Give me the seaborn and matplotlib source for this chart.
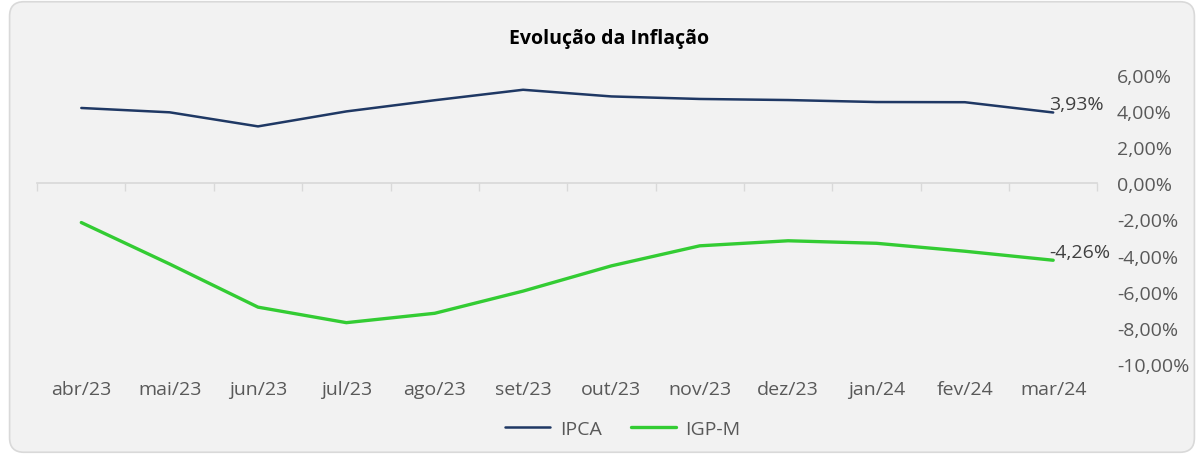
import pandas as pd
import matplotlib
matplotlib.use("Agg")
import matplotlib.pyplot as plt
import matplotlib.ticker as mticker
from matplotlib.patches import FancyBboxPatch
import seaborn as sns

# ── Data (12-month accumulated inflation) ─────────────────────────────────────
meses = ['abr/23', 'mai/23', 'jun/23', 'jul/23', 'ago/23', 'set/23',
         'out/23', 'nov/23', 'dez/23', 'jan/24', 'fev/24', 'mar/24']
ipca = [4.18, 3.94, 3.16, 3.99, 4.61, 5.19, 4.82, 4.68, 4.62, 4.51, 4.50, 3.93]
igpm = [-2.17, -4.47, -6.86, -7.72, -7.20, -5.97, -4.57, -3.46, -3.18, -3.32, -3.76, -4.26]
yticks = [6, 4, 2, 0, -2, -4, -6, -8, -10]

pos = list(range(len(meses)))
df = pd.DataFrame({
    'pos': pos * 2,
    'valor': ipca + igpm,
    'serie': ['IPCA'] * len(meses) + ['IGP-M'] * len(meses),
})

NAVY, GREEN = '#1f3864', '#33cc33'
TXT = '#595959'
FS = 14

# ── Plot ──────────────────────────────────────────────────────────────────────
sns.set_theme(style="white")
plt.rcParams['font.family'] = ['Open Sans', 'DejaVu Sans']

fig = plt.figure(figsize=(11.98, 4.56), dpi=100)
fig.patch.set_facecolor('white')
bg = FancyBboxPatch((0.008, 0.006), 0.989, 0.988, boxstyle="round,pad=0,rounding_size=0.012",
                    transform=fig.transFigure, facecolor='#f2f2f2', edgecolor='#d9d9d9',
                    linewidth=1.2, mutation_aspect=1198 / 456, zorder=-5)
fig.patches.append(bg)

ax = fig.add_axes([0.031, 0.2, 0.885, 0.633])
ax.set_facecolor('none')

sns.lineplot(data=df, x='pos', y='valor', hue='serie', palette={'IPCA': NAVY, 'IGP-M': GREEN},
             ax=ax, legend=False)
ax.lines[0].set_linewidth(1.8)
ax.lines[1].set_linewidth(2.4)

ax.set_xlim(-0.5, len(meses) - 0.5)
ax.set_ylim(-10, 6)

# y axis on the right
ax.yaxis.tick_right()
ax.set_yticks(yticks)
ax.yaxis.set_major_formatter(mticker.FuncFormatter(lambda v, _: f'{v:.2f}%'.replace('.', ',')))
ax.tick_params(axis='y', length=0, pad=14, labelsize=FS, labelcolor=TXT)
ax.set_ylabel('')

# zero line with category boundary ticks
for s in ['top', 'right', 'left']:
    ax.spines[s].set_visible(False)
ax.spines['bottom'].set_position(('data', 0))
ax.spines['bottom'].set_color('#d9d9d9')
ax.set_xticks([p - 0.5 for p in pos] + [len(meses) - 0.5])
ax.tick_params(axis='x', bottom=True, direction='out', length=6, width=1,
               color='#d9d9d9', labelbottom=False)
ax.set_xlabel('')

# month labels at the bottom
sec = ax.secondary_xaxis('bottom')
sec.set_xticks(pos)
sec.set_xticklabels(meses)
sec.tick_params(length=0, pad=12, labelsize=FS, labelcolor=TXT)
sec.spines['bottom'].set_visible(False)

# last value labels
for serie in [ipca, igpm]:
    ax.annotate(f'{serie[-1]:.2f}%'.replace('.', ','), xy=(pos[-1], serie[-1]),
                xytext=(-3, 6), textcoords='offset points', ha='left', va='center',
                fontsize=FS, color='#404040')

fig.text(0.508, 0.915, 'Evolução da Inflação', ha='center', va='center',
         fontsize=14, fontweight='bold', color='black')

handles = [plt.Line2D([], [], color=NAVY, lw=1.8), plt.Line2D([], [], color=GREEN, lw=2.4)]
fig.legend(handles, ['IPCA', 'IGP-M'], loc='center', bbox_to_anchor=(0.52, 0.057), ncol=2,
           frameon=False, fontsize=FS, labelcolor=TXT, handlelength=2.3, columnspacing=1.5,
           handletextpad=0.5)

fig.savefig('out.png', dpi=100)
